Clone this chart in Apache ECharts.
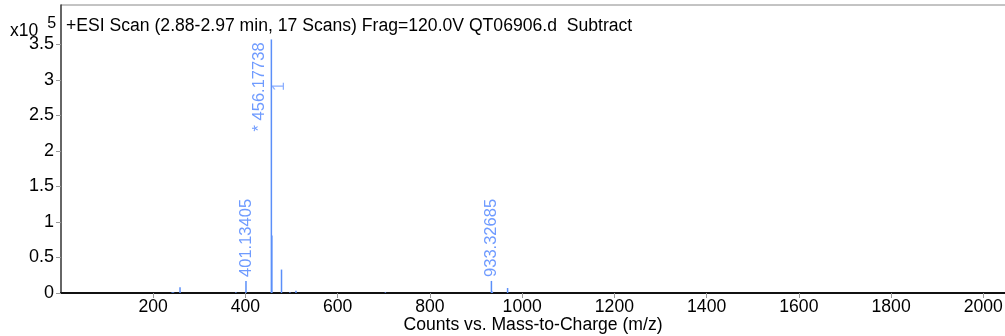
<!DOCTYPE html>
<html>
<head>
<meta charset="utf-8">
<script src="https://cdn.jsdelivr.net/npm/echarts@6/dist/echarts.min.js"></script>
<style>
  html, body { margin: 0; padding: 0; background: #fff; }
  #chart { width: 1005px; height: 336px; }
</style>
</head>
<body>
<div id="chart"></div>
<script>
// Mass spectrum peaks: m/z and abundance (x10^5 counts)
const peakMz = [241.1, 244.0, 258.1, 379.2, 401.13405, 456.17738, 457.18, 478.16, 496.3, 509.5, 703.4, 933.32685, 935.3, 968.4];
const peakCounts = [0.01, 0.01, 0.08, 0.01, 0.17, 3.57, 0.81, 0.33, 0.01, 0.03, 0.01, 0.17, 0.02, 0.07];

// Peaks carrying an m/z annotation above the stick
const labelledMz = [401.13405, 933.32685];
const basePeakMz = 456.17738;
const basePeakText = '* 456.17738';
const basePeakCharge = '1';

// Axis tick values
const xTicks = [200, 400, 600, 800, 1000, 1200, 1400, 1600, 1800, 2000];
const yTicks = [0, 0.5, 1, 1.5, 2, 2.5, 3, 3.5];

const titleText = '+ESI Scan (2.88-2.97 min, 17 Scans) Frag=120.0V QT06906.d  Subtract';
const xAxisName = 'Counts vs. Mass-to-Charge (m/z)';

const FONT = 'Liberation Sans, Arial, sans-serif';
const BLUE = '#5b8ff9';
const LABEL_BLUE = '#6f9bff';

const data = peakMz.map((mz, i) => {
  const item = { value: [mz, peakCounts[i]] };
  if (labelledMz.includes(mz)) {
    item.label = {
      show: true, position: 'top', rotate: 90, align: 'left', verticalAlign: 'middle',
      distance: 4, formatter: String(mz), color: LABEL_BLUE, fontSize: 16.5, fontFamily: FONT
    };
  } else if (mz === basePeakMz) {
    item.label = {
      show: true, position: [-11, 3], rotate: 90, align: 'right', verticalAlign: 'middle',
      formatter: basePeakText, color: LABEL_BLUE, fontSize: 16.5, fontFamily: FONT
    };
  }
  return item;
});

const basePeakTop = peakCounts[peakMz.indexOf(basePeakMz)];

const chart = echarts.init(document.getElementById('chart'), null, { renderer: 'canvas' });
chart.setOption({
  animation: false,
  backgroundColor: '#fff',
  grid: { left: 61, right: 0, top: 5, bottom: 43, show: false, outerBoundsMode: 'none', containLabel: false },
  title: [
    { text: titleText, left: 61, top: 12, textStyle: { fontFamily: FONT, fontSize: 17.6, fontWeight: 'normal', color: '#000' } },
    {
      text: 'x10{sup|5}', left: 5, top: 11,
      textStyle: {
        fontFamily: FONT, fontSize: 17.5, fontWeight: 'normal', color: '#000',
        rich: { sup: { fontFamily: FONT, fontSize: 16, color: '#000', padding: [0, 0, 14, 9] } }
      }
    }
  ],
  xAxis: {
    type: 'value', min: 0, max: 2047,
    name: xAxisName, nameLocation: 'middle', nameGap: 23, nameMoveOverlap: false,
    nameTextStyle: { fontFamily: FONT, fontSize: 17.6, color: '#000' },
    splitLine: { show: false },
    axisLine: { show: true, onZero: false, lineStyle: { color: '#111', width: 2 } },
    axisTick: { show: true, length: 5, lineStyle: { color: '#999' }, customValues: xTicks },
    axisLabel: {
      fontFamily: FONT, fontSize: 17.6, color: '#000', margin: 5, customValues: xTicks,
      formatter: (v) => String(v)
    }
  },
  yAxis: {
    type: 'value', min: 0, max: 4.055,
    splitLine: { show: false },
    axisLine: { show: true, lineStyle: { color: '#333', width: 1.5 } },
    axisTick: { show: true, length: 5, lineStyle: { color: '#999' }, customValues: yTicks },
    axisLabel: { fontFamily: FONT, fontSize: 18, color: '#000', margin: 7, customValues: yTicks }
  },
  graphic: [
    { type: 'line', shape: { x1: 61, y1: 5, x2: 1005, y2: 5 }, style: { stroke: '#888', lineWidth: 1 } }
  ],
  series: [
    {
      type: 'bar', data: data, barWidth: 1.5, barGap: '-100%',
      itemStyle: { color: BLUE }, silent: true
    },
    {
      // charge-state tag beside the base peak
      type: 'scatter', symbolSize: 0, silent: true,
      data: [[basePeakMz, basePeakTop]],
      label: {
        show: true, position: 'inside', formatter: basePeakCharge, rotate: 90,
        offset: [-47, 8], color: LABEL_BLUE, fontSize: 16.5, fontFamily: FONT
      }
    }
  ]
});
</script>
</body>
</html>
